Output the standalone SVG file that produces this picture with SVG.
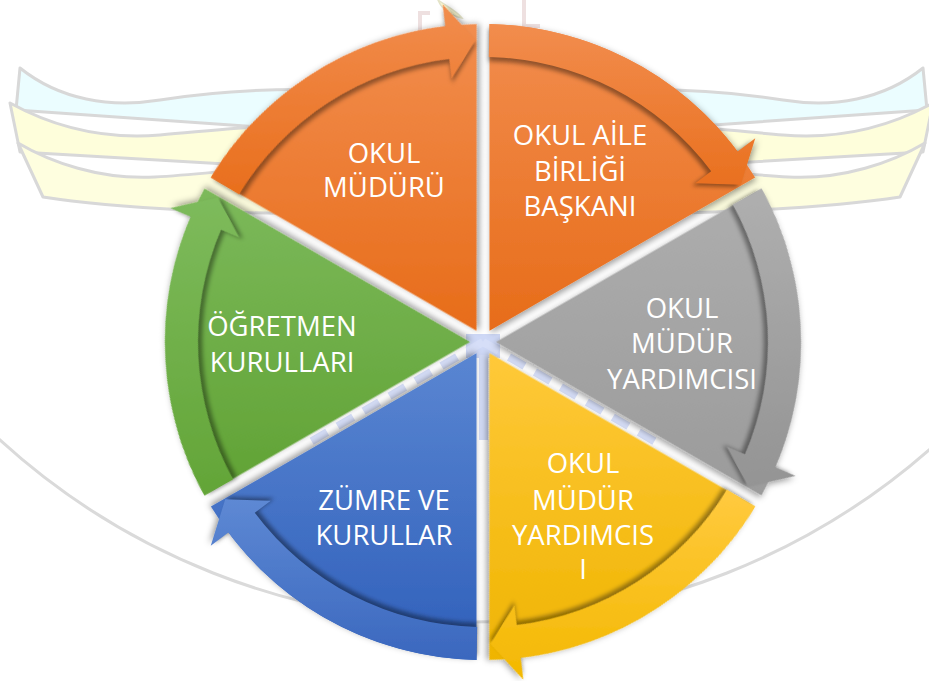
<svg xmlns="http://www.w3.org/2000/svg" xmlns:xlink="http://www.w3.org/1999/xlink" width="929" height="681" viewBox="0 0 929 681">
<defs>
<style>
.t{font-family:"Open Sans","Noto Sans",sans-serif;font-size:27.5px;fill:#ffffff;text-anchor:middle}
.bn{stroke:#D8D8D8;stroke-width:3;stroke-linejoin:round}
</style>
<filter id="ds" x="-20%" y="-20%" width="140%" height="140%"><feDropShadow dx="1.5" dy="2.5" stdDeviation="3" flood-color="#000" flood-opacity="0.38"/></filter>
<filter id="soft" x="-20%" y="-20%" width="140%" height="140%"><feGaussianBlur stdDeviation="2"/></filter>
<path id="wedge" d="M489.5,330.74 L489.49,24.07 A318,318 0 0 1 755.09,177.41 Z"/>
<path id="arrow" d="M488.82,57.06 L489.49,24.07 A318,318 0 0 1 737.63,151.51 L755.25,138.33 L740.78,184.65 L695.19,183.26 L711.21,171.28 A285,285 0 0 0 488.82,57.06 Z"/>
<linearGradient id="b0" gradientUnits="userSpaceOnUse" x1="0" y1="24" x2="0" y2="332"><stop offset="0" stop-color="#F28D4E"/><stop offset="1" stop-color="#E76C19"/></linearGradient>
<linearGradient id="b1" gradientUnits="userSpaceOnUse" x1="0" y1="175" x2="0" y2="510" gradientTransform="rotate(-60 483 342)"><stop offset="0" stop-color="#AEAEAE"/><stop offset="1" stop-color="#9A9A9A"/></linearGradient>
<linearGradient id="b2" gradientUnits="userSpaceOnUse" x1="0" y1="352" x2="0" y2="665" gradientTransform="rotate(-120 483 342)"><stop offset="0" stop-color="#FFC93A"/><stop offset="1" stop-color="#EFB400"/></linearGradient>
<linearGradient id="b3" gradientUnits="userSpaceOnUse" x1="0" y1="352" x2="0" y2="662" gradientTransform="rotate(-180 483 342)"><stop offset="0" stop-color="#5A86D2"/><stop offset="1" stop-color="#2F5FBA"/></linearGradient>
<linearGradient id="b4" gradientUnits="userSpaceOnUse" x1="0" y1="175" x2="0" y2="510" gradientTransform="rotate(-240 483 342)"><stop offset="0" stop-color="#7DBA5C"/><stop offset="1" stop-color="#5FA132"/></linearGradient>
<linearGradient id="b5" gradientUnits="userSpaceOnUse" x1="0" y1="24" x2="0" y2="332" gradientTransform="rotate(-300 483 342)"><stop offset="0" stop-color="#F28D4E"/><stop offset="1" stop-color="#E76C19"/></linearGradient>
<linearGradient id="a0" gradientUnits="userSpaceOnUse" x1="0" y1="24" x2="0" y2="186"><stop offset="0" stop-color="#F28D4E"/><stop offset="1" stop-color="#E9701F"/></linearGradient>
<linearGradient id="a1" gradientUnits="userSpaceOnUse" x1="0" y1="177" x2="0" y2="495" gradientTransform="rotate(-60 483 342)"><stop offset="0" stop-color="#B0B0B0"/><stop offset="1" stop-color="#939393"/></linearGradient>
<linearGradient id="a2" gradientUnits="userSpaceOnUse" x1="0" y1="500" x2="0" y2="680" gradientTransform="rotate(-120 483 342)"><stop offset="0" stop-color="#FFC93C"/><stop offset="1" stop-color="#F3B800"/></linearGradient>
<linearGradient id="a3" gradientUnits="userSpaceOnUse" x1="0" y1="498" x2="0" y2="662" gradientTransform="rotate(-180 483 342)"><stop offset="0" stop-color="#5E89D4"/><stop offset="1" stop-color="#3A67BE"/></linearGradient>
<linearGradient id="a4" gradientUnits="userSpaceOnUse" x1="0" y1="180" x2="0" y2="505" gradientTransform="rotate(-240 483 342)"><stop offset="0" stop-color="#7FBC5E"/><stop offset="1" stop-color="#62A436"/></linearGradient>
<linearGradient id="a5" gradientUnits="userSpaceOnUse" x1="0" y1="2" x2="0" y2="186" gradientTransform="rotate(-300 483 342)"><stop offset="0" stop-color="#F28D4E"/><stop offset="1" stop-color="#E9701F"/></linearGradient>
</defs>

<rect x="0" y="0" width="929" height="681" fill="#ffffff"/>

<g id="background">
  <circle cx="470" cy="-76" r="698" fill="none" stroke="#DADADA" stroke-width="3"/>
  <g id="banner-left">
    <path class="bn" fill="#EBFDFF" d="M20,68 C60,100 110,108 160,100 S260,88 330,90 L330,132 L16,110 Z"/>
    <path class="bn" fill="#FEFEDB" d="M10,103 C50,125 100,140 160,135 S260,124 330,126 L330,170 L20,152 Z"/>
    <path class="bn" fill="#FEFEDF" d="M18,143 C50,162 100,180 155,177 S255,166 330,165 L330,214 C250,214 120,209 43,197 Z"/>
  </g>
  <g id="banner-right" transform="matrix(-1,0,0,1,943,0)">
    <path class="bn" fill="#EBFDFF" d="M20,68 C60,100 110,108 160,100 S260,88 330,90 L330,132 L16,110 Z"/>
    <path class="bn" fill="#FEFEDB" d="M10,103 C50,125 100,140 160,135 S260,124 330,126 L330,170 L20,152 Z"/>
    <path class="bn" fill="#FEFEDF" d="M18,143 C50,162 100,180 155,177 S255,166 330,165 L330,214 C250,214 120,209 43,197 Z"/>
  </g>
  <path d="M420,48 L420,13 L430,13" fill="none" stroke="#EEE0E0" stroke-width="4"/>
  <path d="M524,0 L524,26 L540,26" fill="none" stroke="#EEE0E0" stroke-width="4"/>
  <path d="M438,0 C446,6 456,10 462,18 C452,16 442,10 438,0 Z" fill="#FFFBD2" stroke="#E4E4C8" stroke-width="1.5"/>
  <rect x="466" y="334" width="34" height="24" fill="#CED8F6"/>
  <rect x="479" y="355" width="9" height="85" fill="#D3DCF7"/>
  <path d="M483,342 L305,445" stroke="#D6DEF8" stroke-width="8" stroke-dasharray="18 12" fill="none"/>
  <path d="M483,342 L661,445" stroke="#D6DEF8" stroke-width="8" stroke-dasharray="18 12" fill="none"/>
</g>

<g id="connectors"></g>

<g id="node-okul-aile-birligi-baskani">
  <g filter="url(#ds)">
    <use href="#wedge" fill="url(#b0)"/>
    <use href="#arrow" transform="translate(483 342) scale(0.985) translate(-483 -342)" fill="#000" fill-opacity="0.4" filter="url(#soft)"/>
    <use href="#arrow" fill="url(#a0)"/>
  </g>
  <text class="t" x="580" y="145">OKUL AİLE</text>
  <text class="t" x="580" y="181">BİRLİĞİ</text>
  <text class="t" x="580" y="216">BAŞKANI</text>
</g>

<g id="node-okul-mudur-yardimcisi-1">
  <g filter="url(#ds)" transform="rotate(60 483 342)">
    <use href="#wedge" fill="url(#b1)"/>
    <use href="#arrow" transform="translate(483 342) scale(0.985) translate(-483 -342)" fill="#000" fill-opacity="0.4" filter="url(#soft)"/>
    <use href="#arrow" fill="url(#a1)"/>
  </g>
  <text class="t" x="682" y="318">OKUL</text>
  <text class="t" x="682" y="353">MÜDÜR</text>
  <text class="t" x="682" y="389">YARDIMCISI</text>
</g>

<g id="node-okul-mudur-yardimcisi-2">
  <g filter="url(#ds)" transform="rotate(120 483 342)">
    <use href="#wedge" fill="url(#b2)"/>
    <use href="#arrow" transform="translate(483 342) scale(0.985) translate(-483 -342)" fill="#000" fill-opacity="0.4" filter="url(#soft)"/>
    <use href="#arrow" fill="url(#a2)"/>
  </g>
  <text class="t" x="583" y="473">OKUL</text>
  <text class="t" x="583" y="510">MÜDÜR</text>
  <text class="t" x="583" y="545">YARDIMCIS</text>
  <text class="t" x="583" y="579">I</text>
</g>

<g id="node-zumre-ve-kurullar">
  <g filter="url(#ds)" transform="rotate(180 483 342)">
    <use href="#wedge" fill="url(#b3)"/>
    <use href="#arrow" transform="translate(483 342) scale(0.985) translate(-483 -342)" fill="#000" fill-opacity="0.4" filter="url(#soft)"/>
    <use href="#arrow" fill="url(#a3)"/>
  </g>
  <text class="t" x="384" y="510">ZÜMRE VE</text>
  <text class="t" x="384" y="545">KURULLAR</text>
</g>

<g id="node-ogretmen-kurullari">
  <g filter="url(#ds)" transform="rotate(240 483 342)">
    <use href="#wedge" fill="url(#b4)"/>
    <use href="#arrow" transform="translate(483 342) scale(0.985) translate(-483 -342)" fill="#000" fill-opacity="0.4" filter="url(#soft)"/>
    <use href="#arrow" fill="url(#a4)"/>
  </g>
  <text class="t" x="282" y="336">ÖĞRETMEN</text>
  <text class="t" x="282" y="372">KURULLARI</text>
</g>

<g id="node-okul-muduru">
  <g filter="url(#ds)" transform="rotate(300 483 342)">
    <use href="#wedge" fill="url(#b5)"/>
    <use href="#arrow" transform="translate(483 342) scale(0.985) translate(-483 -342)" fill="#000" fill-opacity="0.4" filter="url(#soft)"/>
    <use href="#arrow" fill="url(#a5)"/>
  </g>
  <text class="t" x="384" y="163">OKUL</text>
  <text class="t" x="384" y="197">MÜDÜRÜ</text>
</g>
</svg>
